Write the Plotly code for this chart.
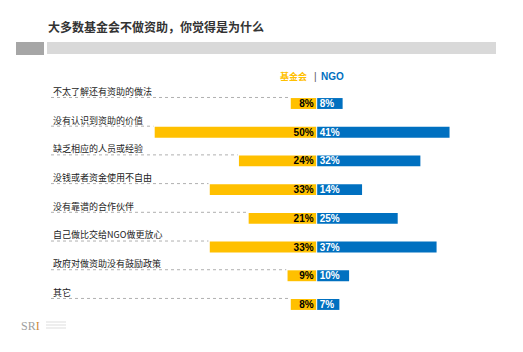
import plotly.graph_objects as go

categories = ["不太了解还有资助的做法", "没有认识到资助的价值", "缺乏相应的人员或经验",
              "没钱或者资金使用不自由", "没有靠谱的合作伙伴", "自己做比交给NGO做更放心",
              "政府对做资助没有鼓励政策", "其它"]
foundation = [8, 50, 24, 33, 21, 33, 9, 8]
ngo = [8, 41, 32, 14, 25, 37, 10, 7]

W, H = 523, 352
PX_PER = 3.24
CENTER = 316.7
XMIN = -CENTER / PX_PER
XMAX = (W - CENTER) / PX_PER
ROW0 = 103.5
ROWSTEP = 28.71
YTOP = -ROW0 / ROWSTEP
YBOT = (H - ROW0) / ROWSTEP
idx = list(range(len(categories)))

YEL = "#FFC000"
BLU = "#0070C0"
FONT = "Noto Sans CJK SC"

fig = go.Figure()
fig.add_trace(go.Bar(
    y=idx, x=foundation, base=[-v for v in foundation], orientation="h",
    marker=dict(color=YEL, line=dict(width=0)), width=0.38,
    text=[f"<b>{v}%</b>" for v in foundation], textposition="inside",
    insidetextanchor="end", constraintext="none",
    textfont=dict(color="black", size=10, family="Arial"), hoverinfo="skip"))
fig.add_trace(go.Bar(
    y=idx, x=ngo, base=[0] * len(ngo), orientation="h",
    marker=dict(color=BLU, line=dict(width=0)), width=0.38,
    text=[f"<b>{v}%</b>" for v in ngo], textposition="inside",
    insidetextanchor="start", constraintext="none",
    textfont=dict(color="white", size=10, family="Arial"), hoverinfo="skip"))

def px(xp):
    return XMIN + xp / PX_PER

anns = []
shapes = []
for i, (c, v) in enumerate(zip(categories, foundation)):
    anns.append(dict(x=px(51), y=i - 0.42, xref="x", yref="y", text=c, showarrow=False,
                     xanchor="left", yanchor="middle",
                     font=dict(size=9, color="#222222", family=FONT)))
    shapes.append(dict(type="line", xref="x", yref="y", x0=px(51), x1=-v - 0.4,
                       y0=i - 0.21, y1=i - 0.21,
                       line=dict(color="#b0b0b0", width=1, dash="dot")))

# title
anns.append(dict(x=46 / W, y=1 - 27 / H, xref="paper", yref="paper",
                 text="<b>大多数基金会不做资助，你觉得是为什么</b>", showarrow=False,
                 xanchor="left", yanchor="middle",
                 font=dict(size=12, color="#333333", family=FONT)))
# legend
anns.append(dict(x=309 / W, y=1 - 76 / H, xref="paper", yref="paper", text="<b>基金会</b>",
                 showarrow=False, xanchor="right", yanchor="middle",
                 font=dict(size=9, color=YEL, family=FONT)))
anns.append(dict(x=315 / W, y=1 - 76 / H, xref="paper", yref="paper", text="|",
                 showarrow=False, xanchor="center", yanchor="middle",
                 font=dict(size=10, color="#555555", family="Arial")))
anns.append(dict(x=319 / W, y=1 - 76 / H, xref="paper", yref="paper", text="<b>NGO</b>",
                 showarrow=False, xanchor="left", yanchor="middle",
                 font=dict(size=10, color=BLU, family="Arial")))
# logo
anns.append(dict(x=19 / W, y=1 - 326 / H, xref="paper", yref="paper",
                 text="SR<span style='color:#d08a3a'>I</span>",
                 showarrow=False, xanchor="left", yanchor="middle",
                 font=dict(size=12, color="#a0a0a0", family="Liberation Serif")))
for k, yy in enumerate([322, 325, 328]):
    shapes.append(dict(type="line", xref="paper", yref="paper", x0=46 / W, x1=66 / W,
                       y0=1 - yy / H, y1=1 - yy / H, line=dict(color="#dddddd", width=1)))

# header bars
shapes.append(dict(type="rect", xref="paper", yref="paper", x0=16 / W, x1=44 / W,
                   y0=1 - 55 / H, y1=1 - 42 / H, fillcolor="#a6a6a6", line=dict(width=0)))
shapes.append(dict(type="rect", xref="paper", yref="paper", x0=47 / W, x1=496 / W,
                   y0=1 - 54 / H, y1=1 - 42 / H, fillcolor="#d9d9d9", line=dict(width=0)))
# center separator
shapes.append(dict(type="line", xref="x", yref="y", x0=0, x1=0,
                   y0=-0.19, y1=len(categories) - 1 + 0.19,
                   line=dict(color="white", width=1)))

fig.update_layout(
    width=W, height=H, margin=dict(l=0, r=0, t=0, b=0),
    barmode="overlay", showlegend=False,
    plot_bgcolor="white", paper_bgcolor="white",
    xaxis=dict(range=[XMIN, XMAX], visible=False, fixedrange=True),
    yaxis=dict(range=[YBOT, YTOP], visible=False, fixedrange=True),
    annotations=anns, shapes=shapes,
    uniformtext=dict(mode=False),
)
fig.write_html("out.html")
